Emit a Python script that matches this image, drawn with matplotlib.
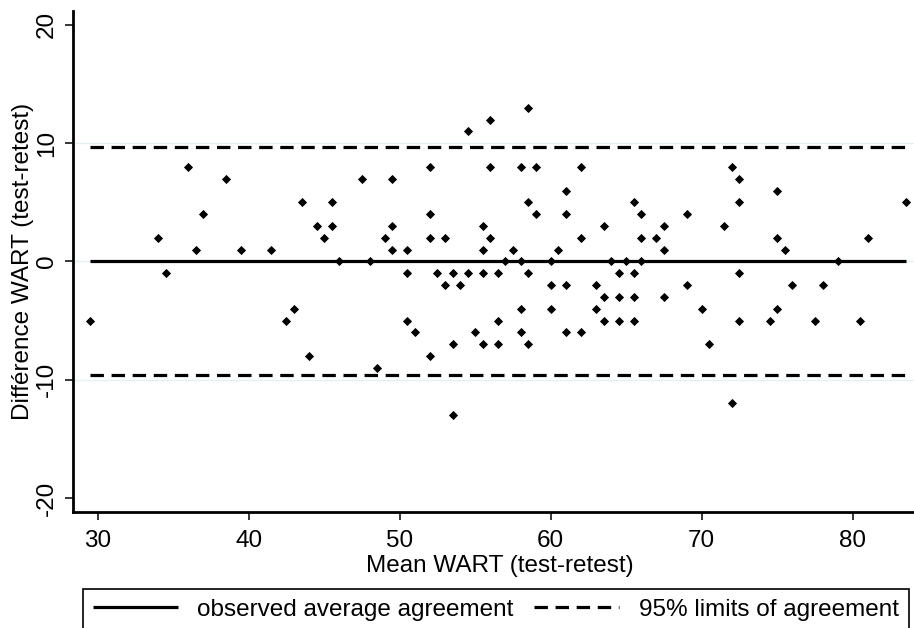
import numpy as np
import matplotlib.pyplot as plt
from matplotlib.lines import Line2D

plt.rcParams['font.family'] = ['Liberation Sans', 'DejaVu Sans']
plt.rcParams['axes.unicode_minus'] = False

# Bland-Altman data: mean and difference of WART test-retest
mean_wart = [29.5, 34, 34.5, 36, 36.5, 37, 38.5, 39.5, 41.5, 42.5,
             43, 43.5, 44, 44.5, 45, 45.5, 45.5, 46, 47.5, 48,
             48.5, 49, 49.5, 49.5, 49.5, 50.5, 50.5, 50.5, 51, 52,
             52, 52, 52, 52.5, 53, 53, 53.5, 53.5, 53.5, 54,
             54.5, 54.5, 55, 55.5, 55.5, 55.5, 55.5, 56, 56, 56,
             56.5, 56.5, 56.5, 57, 57.5, 58, 58, 58, 58, 58.5,
             58.5, 58.5, 58.5, 59, 59, 60, 60, 60, 60.5, 61,
             61, 61, 61, 62, 62, 62, 63, 63, 63.5, 63.5,
             63.5, 64, 64.5, 64.5, 64.5, 65, 65.5, 65.5, 65.5, 65.5,
             66, 66, 66, 67, 67.5, 67.5, 67.5, 69, 69, 70,
             70.5, 71.5, 72, 72, 72.5, 72.5, 72.5, 72.5, 74.5, 75,
             75, 75, 75.5, 76, 77.5, 78, 79, 80.5, 81, 83.5]
diff_wart = [-5, 2, -1, 8, 1, 4, 7, 1, 1, -5,
             -4, 5, -8, 3, 2, 5, 3, 0, 7, 0,
             -9, 2, 7, 3, 1, 1, -1, -5, -6, 8,
             4, 2, -8, -1, 2, -2, -1, -7, -13, -2,
             11, -1, -6, 3, 1, -1, -7, 12, 8, 2,
             -1, -5, -7, 0, 1, 8, 0, -4, -6, 13,
             5, -1, -7, 8, 4, 0, -2, -4, 1, 6,
             4, -2, -6, 8, 2, -6, -2, -4, 3, -3,
             -5, 0, -1, -3, -5, 0, 5, -1, -3, -5,
             4, 2, 0, 2, 3, 1, -3, 4, -2, -4,
             -7, 3, 8, -12, 7, 5, -1, -5, -5, 6,
             2, -4, 1, -2, -5, -2, 0, -5, 2, 5]

avg_diff = 0.05
loa_upper = 9.7
loa_lower = -9.6

x_ticks = [30, 40, 50, 60, 70, 80]
y_ticks = [-20, -10, 0, 10, 20]
grid_y = [-10, 0, 10]

fs = 17.5
dash = (0, (4.2, 2.4))

fig = plt.figure(figsize=(9.14, 6.28), dpi=100)
ax = fig.add_axes([0.0802, 0.1842, 0.9198, 0.7988])

for g in grid_y:
    ax.axhline(g, color='#e6eff1', lw=1.0, zorder=0)

x0, x1 = min(mean_wart), max(mean_wart)
ax.plot([x0, x1], [avg_diff, avg_diff], color='black', lw=2.3,
        solid_capstyle='butt', zorder=2)
ax.plot([x0, x1], [loa_upper, loa_upper], color='black', lw=2.3,
        linestyle=dash, dash_capstyle='butt', zorder=2)
ax.plot([x0, x1], [loa_lower, loa_lower], color='black', lw=2.3,
        linestyle=dash, dash_capstyle='butt', zorder=2)

ax.plot(mean_wart, diff_wart, 'D', color='black', ms=4.0, mew=0.6, zorder=3)

ax.set_xlim(28.38, 84.06)
ax.set_ylim(-21.2, 21.2)
ax.set_xticks(x_ticks)
ax.set_yticks(y_ticks)

ax.spines['top'].set_visible(False)
ax.spines['right'].set_visible(False)
ax.spines['left'].set_linewidth(2.0)
ax.spines['bottom'].set_linewidth(2.0)
ax.tick_params(direction='out', length=6, width=1.1, color='black',
               labelsize=fs)
ax.tick_params(axis='x', pad=7)
ax.tick_params(axis='y', pad=5, labelrotation=90)
for lab in ax.get_yticklabels():
    lab.set_va('center')

ax.set_xlabel('Mean WART (test-retest)', fontsize=fs)
ax.set_ylabel('Différence WART (test-retest)', fontsize=fs)
ax.xaxis.set_label_coords(0.5076, -0.085)
ax.yaxis.set_label_coords(-0.047, 0.5)

handles = [Line2D([], [], color='black', lw=2.3, solid_capstyle='butt'),
           Line2D([], [], color='black', lw=2.3, linestyle=dash,
                  dash_capstyle='butt')]
labels = ['observed average agreement', '95% limits of agreement']
leg = fig.legend(handles, labels, loc='upper left',
                 bbox_to_anchor=(83 / 914, 1 - 589 / 628), ncol=2,
                 frameon=True, fancybox=False, edgecolor='black',
                 fontsize=fs, handlelength=3.5, handletextpad=0.8,
                 columnspacing=0.85, borderpad=0.4, borderaxespad=0)
leg.get_frame().set_linewidth(1.2)
leg.get_frame().set_alpha(None)

fig.savefig('out.png', dpi=100)
